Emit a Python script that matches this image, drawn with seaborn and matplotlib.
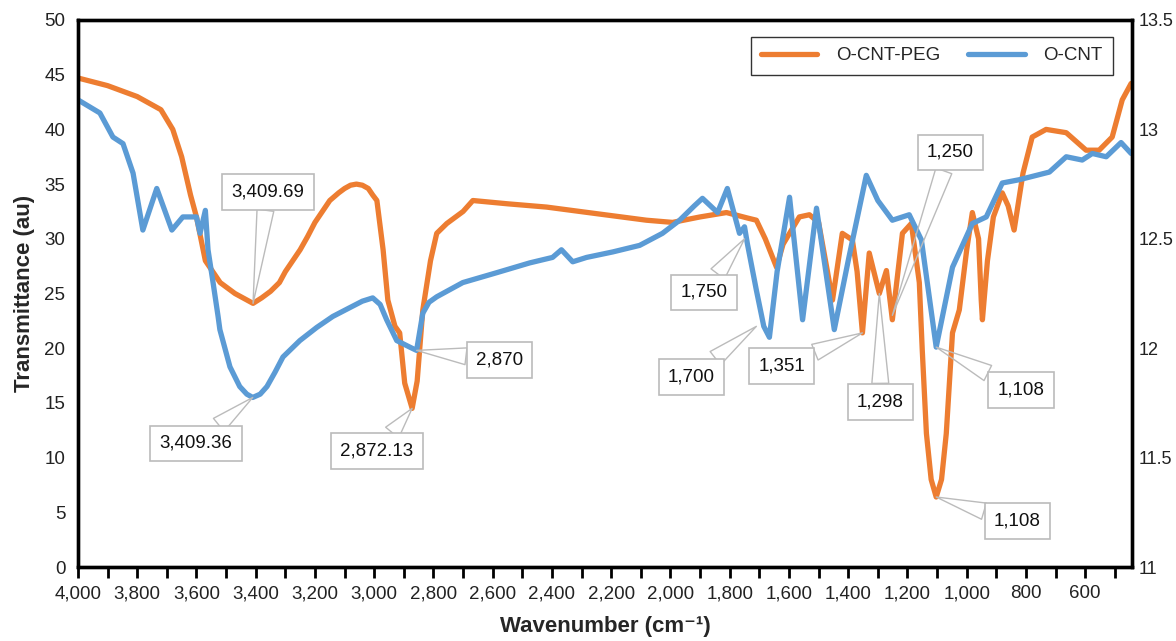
import matplotlib
matplotlib.use("Agg")
import matplotlib.pyplot as plt
import matplotlib.ticker as mticker
import seaborn as sns
import pandas as pd

# ---- data ----
peg_wn = [4000, 3900, 3800, 3720, 3680, 3650, 3620, 3600, 3570, 3520, 3470, 3409, 3380, 3350,
          3320, 3300, 3275, 3250, 3225, 3200, 3175, 3150, 3120, 3100, 3080, 3060, 3040, 3020,
          3005, 2991, 2970, 2954, 2930, 2914, 2897, 2872, 2855,
          2836, 2810, 2789, 2755, 2700, 2667, 2550, 2418, 2250, 2081, 1993, 1900, 1811, 1740,
          1710, 1680, 1642, 1620, 1565, 1531, 1500, 1470, 1453, 1420, 1386, 1370, 1352, 1329,
          1295, 1271, 1251, 1217, 1187, 1160, 1150, 1136, 1120, 1103, 1085, 1069, 1048, 1025,
          1000, 981, 960, 951, 947, 930, 910, 880, 860, 840, 810, 779, 732, 664, 597, 553,
          509, 475, 445]
peg_t = [44.7, 44.0, 43.0, 41.8, 40.0, 37.5, 34.0, 32.0, 28.0, 26.0, 25.0, 24.1, 24.6, 25.2,
         26.0, 27.0, 28.0, 29.0, 30.2, 31.5, 32.5, 33.5, 34.2, 34.6, 34.9, 35.0, 34.9, 34.6,
         34.0, 33.5, 29.0, 24.4, 22.0, 21.4, 16.8, 14.5, 17.0,
         23.5, 28.0, 30.5, 31.4, 32.5, 33.5, 33.2, 32.9, 32.3, 31.7, 31.5, 32.0, 32.4, 31.9,
         31.7, 30.0, 27.4, 29.5, 32.0, 32.2, 31.5, 27.0, 24.4, 30.5, 29.9, 27.0, 21.4, 28.7,
         25.0, 27.1, 22.6, 30.5, 31.4, 26.0, 19.8, 12.2, 8.0, 6.4, 8.0, 12.2, 21.4, 23.5,
         29.0, 32.4, 30.0, 24.4, 22.6, 28.0, 32.0, 34.2, 33.0, 30.8, 36.0, 39.3, 40.0, 39.7,
         38.1, 38.1, 39.3, 42.7, 44.2]

cnt_wn = [4000, 3926, 3882, 3848, 3814, 3781, 3734, 3683, 3646, 3620, 3600, 3588, 3570, 3561,
          3544, 3527, 3521, 3487, 3454, 3430, 3410, 3385, 3362, 3335, 3308, 3251, 3194, 3140,
          3083, 3040, 3005, 2980, 2958, 2924, 2880, 2857, 2836, 2815, 2789, 2701, 2587, 2475,
          2398, 2368, 2330, 2283, 2195, 2104, 2027, 1969, 1920, 1892, 1841, 1808, 1767, 1750,
          1740, 1710, 1685, 1666, 1640, 1598, 1554, 1507, 1447, 1400, 1339, 1300, 1251, 1194,
          1153, 1103, 1048, 981, 934, 880, 823, 721, 664, 610, 576, 529, 479, 445]
cnt_t = [13.135, 13.075, 12.965, 12.935, 12.80, 12.54, 12.73, 12.54, 12.60, 12.60, 12.60, 12.525,
         12.63, 12.45, 12.30, 12.145, 12.085, 11.915, 11.825, 11.79, 11.775, 11.79, 11.825,
         11.89, 11.96, 12.035, 12.095, 12.145, 12.185, 12.215, 12.23, 12.20, 12.13, 12.035,
         12.005, 11.99, 12.16, 12.21, 12.235, 12.30, 12.345, 12.39, 12.415, 12.45, 12.395,
         12.415, 12.44, 12.47, 12.525, 12.585, 12.65, 12.685, 12.62, 12.73, 12.525, 12.555,
         12.475, 12.265, 12.10, 12.05, 12.35, 12.69, 12.13, 12.64, 12.085, 12.40, 12.79,
         12.675, 12.585, 12.61, 12.495, 12.005, 12.37, 12.57, 12.60, 12.755, 12.77, 12.805,
         12.875, 12.86, 12.89, 12.875, 12.94, 12.89]

# callouts: label, series, point x, point y (series units), box x, box y (left-axis units)
call_labels = ["3,409.69", "3,409.36", "2,872.13", "2,870", "1,750", "1,700",
               "1,351", "1,298", "1,250", "1,108", "1,108"]
call_series = ["peg", "cnt", "peg", "cnt", "cnt", "cnt", "peg", "peg", "peg", "cnt", "peg"]
call_px = [3409, 3410, 2872, 2857, 1750, 1710, 1352, 1295, 1251, 1103, 1103]
call_py = [24.1, 11.775, 14.5, 11.99, 12.5, 12.1, 21.4, 25.0, 23.0, 12.005, 6.4]
call_bx = [3359, 3602, 2991, 2577, 1888, 1929, 1625, 1291, 1055, 816, 829]
call_by = [34.3, 11.3, 10.6, 18.9, 25.1, 17.4, 18.4, 15.1, 37.9, 16.2, 4.2]

ORANGE = "#ED7D31"
BLUE = "#5B9BD5"

sns.set_style("white")
plt.rcParams['font.family'] = ['Liberation Sans', 'DejaVu Sans']

df_peg = pd.DataFrame({"wn": peg_wn, "t": peg_t})
df_cnt = pd.DataFrame({"wn": cnt_wn, "t": cnt_t})

fig = plt.figure(figsize=(11.76, 6.41), dpi=100)
ax = fig.add_axes([0.0663, 0.1154, 0.8963, 0.8534])
ax2 = ax.twinx()

sns.lineplot(data=df_peg, x="wn", y="t", ax=ax, color=ORANGE, lw=3.8, label="O-CNT-PEG",
             legend=False, sort=False)
sns.lineplot(data=df_cnt, x="wn", y="t", ax=ax2, color=BLUE, lw=3.8, label="O-CNT",
             legend=False, sort=False)

ax.set_xlim(4000, 442)
ax.set_ylim(0, 50)
ax2.set_ylim(11, 13.5)
ax.set_yticks(range(0, 51, 5))
ax2.set_yticks([11, 11.5, 12, 12.5, 13, 13.5])
ax2.yaxis.set_major_formatter(mticker.FormatStrFormatter("%g"))
ax.xaxis.set_major_locator(mticker.MultipleLocator(200))
ax.xaxis.set_minor_locator(mticker.MultipleLocator(100))
ax.xaxis.set_major_formatter(mticker.FuncFormatter(lambda v, p: f"{v:,.0f}"))

ax.tick_params(axis='x', which='both', direction='out', length=8, width=2, colors='black',
               labelsize=13.5, labelcolor='#222222', bottom=True, pad=5)
ax.tick_params(axis='y', length=0, labelsize=13.5, labelcolor='#222222', pad=9)
ax2.tick_params(axis='y', length=0, labelsize=13, labelcolor='#222222', pad=5)

for a in (ax, ax2):
    for s in a.spines.values():
        s.set_visible(True)
        s.set_color('black')
        s.set_linewidth(2.4)

ax.set_xlabel("Wavenumber (cm\u207b\u00b9)", fontsize=16, fontweight='bold', labelpad=10)
ax.set_ylabel("Transmittance (au)", fontsize=16, fontweight='bold', labelpad=7)
ax2.set_ylabel("")
ax.grid(False)
ax2.grid(False)

# legend
h1, l1 = ax.get_legend_handles_labels()
h2, l2 = ax2.get_legend_handles_labels()
leg = ax2.legend(h1 + h2, l1 + l2, ncol=2, loc='upper right', bbox_to_anchor=(0.982, 0.969),
                 fontsize=13.5, frameon=True, fancybox=False, edgecolor='black',
                 handlelength=3.0, columnspacing=1.5, borderpad=0.55, handletextpad=1.0,
                 borderaxespad=0)
leg.get_frame().set_linewidth(1.0)

# callouts
for lab, ser, px, py, bx, by in zip(call_labels, call_series, call_px, call_py, call_bx, call_by):
    src = ax.transData if ser == "peg" else ax2.transData
    ax2.annotate(lab, xy=(px, py), xycoords=src, xytext=(bx, by), textcoords=ax.transData,
                 ha='center', va='center', fontsize=13.5, color='#111111',
                 bbox=dict(boxstyle='square,pad=0.5', fc='white', ec='#BBBBBB', lw=1.2),
                 arrowprops=dict(arrowstyle='wedge,tail_width=0.9,shrink_factor=0.5',
                                 fc='none', ec='#BBBBBB', lw=1.0, shrinkA=0, shrinkB=0))

fig.savefig("out.png", dpi=100)
